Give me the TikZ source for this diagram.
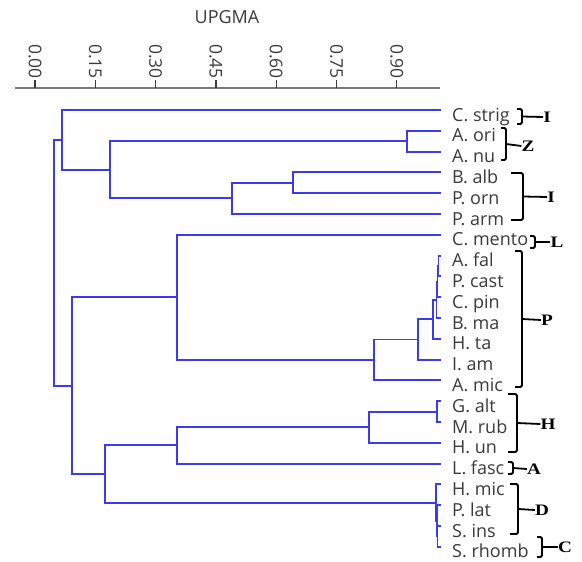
\documentclass[tikz,border=0pt]{standalone}
\usepackage{fontspec}
\setmainfont{Open Sans}
\newfontfamily\grpfont{Liberation Serif}
\definecolor{treeblue}{RGB}{58,58,238}
\definecolor{labelgray}{RGB}{58,58,58}
\definecolor{axisgray}{RGB}{120,120,120}
\begin{document}
\begin{tikzpicture}[x=1pt,y=-1pt,
  tree/.style={draw=treeblue,line width=1.9pt,line cap=rect},
  leaflabel/.style={anchor=base west,inner sep=0pt,text=labelgray,font=\fontsize{18}{20}\selectfont},
  ticklabel/.style={anchor=east,rotate=-90,inner sep=0pt,text=labelgray,font=\fontsize{17.5}{20}\selectfont},
  axisline/.style={draw=axisgray,line width=1.9pt},
  tickmark/.style={draw=labelgray,line width=1.3pt},
  grp/.style={line width=1.8pt,rounded corners=1.5pt},
  grpletter/.style={inner sep=0pt,font=\fontsize{16}{18}\grpfont\bfseries}]
\useasboundingbox (0,0) rectangle (582,562);

% title and distance axis
\node[text=labelgray,font=\fontsize{18}{20}\selectfont] (title) at (227,17) {UPGMA};
\coordinate (axL) at (15,88);
\coordinate (axR) at (440,88);
\draw[axisline] (axL) -- (axR);
\foreach \v/\s [count=\k] in {0/0.00,0.15/0.15,0.30/0.30,0.45/0.45,0.60/0.60,0.75/0.75,0.90/0.90}{
  \coordinate (tk\k) at ({35+402*\v},88);
  \coordinate (tt\k) at ({35+402*\v},80);
  \draw[tickmark] (tk\k) -- (tt\k);
  \node[ticklabel] (tl\k) at ({35+402*\v},79) {\s};
}

% leaves
\foreach \i/\t in {0/C. strig,1/A. ori,2/A. nu,3/B. alb,4/P. orn,5/P. arm,6/C. mento,
  7/A. fal,8/P. cast,9/C. pin,10/B. ma,11/H. ta,12/I. am,13/A. mic,14/G. alt,
  15/M. rub,16/H. un,17/L. fasc,18/H. mic,19/P. lat,20/S. ins,21/S. rhomb}{
  \coordinate (l\i) at (440,{110+20.8*\i});
  \node[leaflabel] (t\i) at (452,{121+20.8*\i}) {\t};
}

% internal nodes
\coordinate (a) at (407,141.2);
\coordinate (b) at (293,182.8);
\coordinate (c) at (232,198.4);
\coordinate (d) at (110,169.8);
\coordinate (e) at (62,139.9);
\coordinate (f1) at (438.5,266);
\coordinate (f2) at (437.5,281.6);
\coordinate (f3) at (436.5,299.8);
\coordinate (f4) at (433,319.3);
\coordinate (g) at (418,339.5);
\coordinate (h) at (374,359.9);
\coordinate (i) at (177,297.4);
\coordinate (j) at (437,411.6);
\coordinate (k) at (369,427.2);
\coordinate (m) at (177,445.4);
\coordinate (n3) at (437.5,536.4);
\coordinate (n2) at (436.8,520.8);
\coordinate (n1) at (436,502.6);
\coordinate (o) at (105,474);
\coordinate (p) at (72,385.7);
\coordinate (r) at (54,262.8);

% branches: parent |- child
\foreach \pa/\ch in {a/l1,a/l2,b/l3,b/l4,c/b,c/l5,d/a,d/c,e/l0,e/d,
  f1/l7,f1/l8,f2/f1,f2/l9,f3/f2,f3/l10,f4/f3,f4/l11,g/f4,g/l12,h/g,h/l13,
  i/l6,i/h,j/l14,j/l15,k/j,k/l16,m/k,m/l17,
  n3/l20,n3/l21,n2/l19,n2/n3,n1/l18,n1/n2,o/m,o/n1,p/i,p/o,r/e,r/p}{
  \draw[tree] (\pa) |- (\ch);
}

% group brackets: hook x, bracket x, top, bottom, letter centre x, letter y, name, letter
\foreach \hx/\bx/\yt/\yb/\lx/\ly/\nm/\lt in {
  517/522/109/124/547/117/gA/I,
  501/506/128/160/528/146/gB/Z,
  511/523/173/220/551/197/gC/I,
  530/535/236/248/557/242/gD/L,
  515/522/251/387/547/320/gE/P,
  508/517/394/452/548/424/gF/H,
  508/513/462/474/534/469/gG/A,
  510/518/484/534/542/510/gH/D,
  537/542/537/557/565/547/gI/C}{
  \node[grpletter] (\nm) at (\lx,\ly) {\scalebox{1.2}[1]{\lt}};
  \coordinate (\nm t) at (\hx,\yt);
  \coordinate (\nm b) at (\hx,\yb);
  \coordinate (\nm m) at (\bx,{(\yt+\yb)/2});
  \draw[grp] (\nm t) -| (\nm m) |- (\nm b);
  \draw[line width=1.8pt] (\nm m) -- (\nm.west);
}
\end{tikzpicture}
\end{document}
